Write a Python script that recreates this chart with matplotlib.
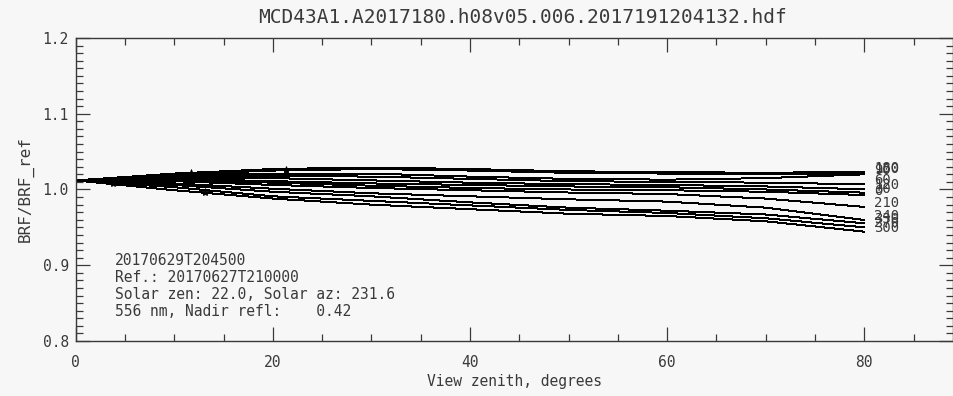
import matplotlib
matplotlib.use("Agg")
import matplotlib.pyplot as plt
from matplotlib.ticker import MultipleLocator, FormatStrFormatter

# view zenith angles (degrees) at which the BRF ratio is sampled
view_zenith = [0, 10, 20, 30, 40, 50, 60, 70, 80]

# relative azimuth of each curve (degrees), used as the end label
azimuths = [180, 150, 90, 60, 120, 30, 0, 210, 240, 330, 270, 300]

# BRF / BRF_ref for each azimuth, one row per curve
ratios = [
    [1.012, 1.021, 1.027, 1.029, 1.027, 1.024, 1.023, 1.022, 1.0235],
    [1.012, 1.020, 1.025, 1.027, 1.025, 1.022, 1.021, 1.020, 1.0214],
    [1.012, 1.019, 1.021, 1.021, 1.017, 1.014, 1.013, 1.015, 1.0200],
    [1.012, 1.0175, 1.018, 1.017, 1.014, 1.011, 1.010, 1.009, 1.0069],
    [1.012, 1.016, 1.015, 1.012, 1.009, 1.007, 1.006, 1.004, 1.0003],
    [1.012, 1.014, 1.011, 1.008, 1.006, 1.004, 1.003, 1.000, 0.9958],
    [1.012, 1.013, 1.009, 1.005, 1.002, 1.000, 0.999, 0.997, 0.9927],
    [1.012, 1.011, 1.006, 1.002, 0.999, 0.996, 0.994, 0.988, 0.9770],
    [1.012, 1.008, 1.001, 0.995, 0.991, 0.987, 0.984, 0.976, 0.9597],
    [1.012, 1.006, 0.997, 0.991, 0.983, 0.976, 0.972, 0.967, 0.9554],
    [1.012, 1.003, 0.991, 0.985, 0.979, 0.973, 0.969, 0.962, 0.9501],
    [1.012, 0.999, 0.988, 0.980, 0.974, 0.968, 0.965, 0.958, 0.9443],
]

# asterisks marking special view directions
mark_zenith = [3.8, 11.7, 13.1, 21.3]
mark_ratio = [1.008, 1.022, 0.997, 1.026]

title = "MCD43A1.A2017180.h08v05.006.2017191204132.hdf"
info_lines = [
    "20170629T204500",
    "Ref.: 20170627T210000",
    "Solar zen: 22.0, Solar az: 231.6",
    "556 nm, Nadir refl:    0.42",
]

bg = "#f7f7f7"
ink = "#3a3a3a"

plt.rcParams["font.family"] = ["DejaVu Sans Mono"]

fig = plt.figure(figsize=(9.54, 3.96), dpi=100, facecolor=bg)
ax = fig.add_axes([0.0794, 0.1389, 0.9196, 0.7652], facecolor=bg)

for az, vals in zip(azimuths, ratios):
    ax.plot(view_zenith, vals, color="black", lw=0.72, antialiased=False)
    ax.text(81.0, vals[-1], str(az), fontsize=10, color=ink,
            ha="left", va="baseline")

ax.plot(mark_zenith, mark_ratio, ls="none", marker="*", ms=6,
        color="black", mew=0.6)

ax.set_xlim(0, 89)
ax.set_ylim(0.8, 1.2)
ax.xaxis.set_major_locator(MultipleLocator(20))
ax.xaxis.set_minor_locator(MultipleLocator(5))
ax.yaxis.set_major_locator(MultipleLocator(0.1))
ax.yaxis.set_minor_locator(MultipleLocator(0.01))
ax.yaxis.set_major_formatter(FormatStrFormatter("%.1f"))

ax.tick_params(which="both", direction="in", top=True, right=True,
               colors=ink, labelsize=10.5)
ax.tick_params(which="major", length=10, width=0.9)
ax.tick_params(which="minor", length=5, width=0.9)
ax.tick_params(axis="x", pad=10)
ax.tick_params(axis="y", pad=5)
for s in ax.spines.values():
    s.set_color(ink)
    s.set_linewidth(1.0)

ax.set_xlabel("View zenith, degrees", fontsize=10.5, color=ink, labelpad=3)
ax.set_ylabel("BRF/BRF_ref", fontsize=11.5, color=ink, labelpad=6)

fig.text(0.548, 0.957, title, fontsize=14, color=ink,
         ha="center", va="center")

for i, line in enumerate(info_lines):
    ax.text(4.0, 0.9065 - i * 0.0225, line, fontsize=10.5, color=ink,
            ha="left", va="center")

fig.savefig("out.png", dpi=100, facecolor=bg)
